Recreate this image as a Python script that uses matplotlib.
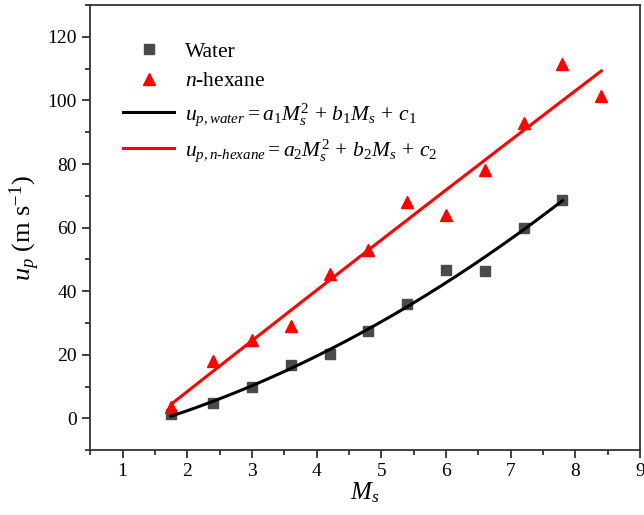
import matplotlib.pyplot as plt
import numpy as np
from matplotlib.ticker import MultipleLocator

plt.rcParams['font.family'] = ['Liberation Serif', 'DejaVu Serif']
plt.rcParams['mathtext.fontset'] = 'custom'
plt.rcParams['mathtext.rm'] = 'Liberation Serif'
plt.rcParams['mathtext.it'] = 'Liberation Serif:italic'

# Shock Mach number vs particle velocity
ms_water = np.array([1.75, 2.4, 3.0, 3.6, 4.2, 4.8, 5.4, 6.0, 6.6, 7.2, 7.8])
up_water = np.array([1.3, 4.7, 9.8, 16.7, 20.2, 27.5, 36.0, 46.7, 46.4, 60.0, 68.8])

ms_hex = np.array([1.75, 2.4, 3.0, 3.6, 4.2, 4.8, 5.4, 6.0, 6.6, 7.2, 7.8, 8.4])
up_hex = np.array([3.5, 18.0, 24.5, 29.0, 45.5, 53.0, 68.0, 64.0, 78.0, 93.0, 111.5, 101.5])

# quadratic fits
p_w = np.polyfit(ms_water, up_water, 2)
p_h = np.polyfit(ms_hex, up_hex, 2)
xw = np.linspace(ms_water.min(), ms_water.max(), 200)
xh = np.linspace(ms_hex.min(), ms_hex.max(), 200)

fig, ax = plt.subplots(figsize=(6.44, 5.15), dpi=100)
fig.subplots_adjust(left=0.14, right=0.994, top=0.99, bottom=0.126)

ax.plot(ms_water, up_water, 's', color='#4a4a4a', ms=7, ls='none', label='Water')
ax.plot(ms_hex, up_hex, '^', color='#ff0000', ms=8.5, ls='none', label='$n$-hexane')
ax.plot(xw, np.polyval(p_w, xw), '-', color='black', lw=2.2,
        label=r'$u_{p,water}=a_1M_s^2\,+\,b_1M_s\,+\,c_1$')
ax.plot(xh, np.polyval(p_h, xh), '-', color='#ff0000', lw=2.2,
        label=r'$u_{p,n\text{-}hexane}=a_2M_s^2\,+\,b_2M_s\,+\,c_2$')

ax.set_xlim(0.5, 9)
ax.set_ylim(-10, 130)
ax.xaxis.set_major_locator(MultipleLocator(1))
ax.xaxis.set_minor_locator(MultipleLocator(0.5))
ax.yaxis.set_major_locator(MultipleLocator(20))
ax.yaxis.set_minor_locator(MultipleLocator(10))
ax.set_xticks(range(1, 10))
ax.tick_params(which='both', direction='out', labelsize=14, color='#333333')
ax.tick_params(which='major', length=6, width=1.3)
ax.tick_params(which='minor', length=3.5, width=1.3)
for s in ax.spines.values():
    s.set_linewidth(1.3)
    s.set_color('#333333')

ax.set_xlabel('$M_s$', fontsize=18, labelpad=0)
ax.set_ylabel('$u_p$ (m s$^{-1}$)', fontsize=19, labelpad=4)

ax.legend(loc='upper left', bbox_to_anchor=(0.024, 0.962), frameon=False,
          fontsize=15.5, handlelength=2.4, labelspacing=0.45, handletextpad=0.5)

fig.savefig('out.png', dpi=100)
